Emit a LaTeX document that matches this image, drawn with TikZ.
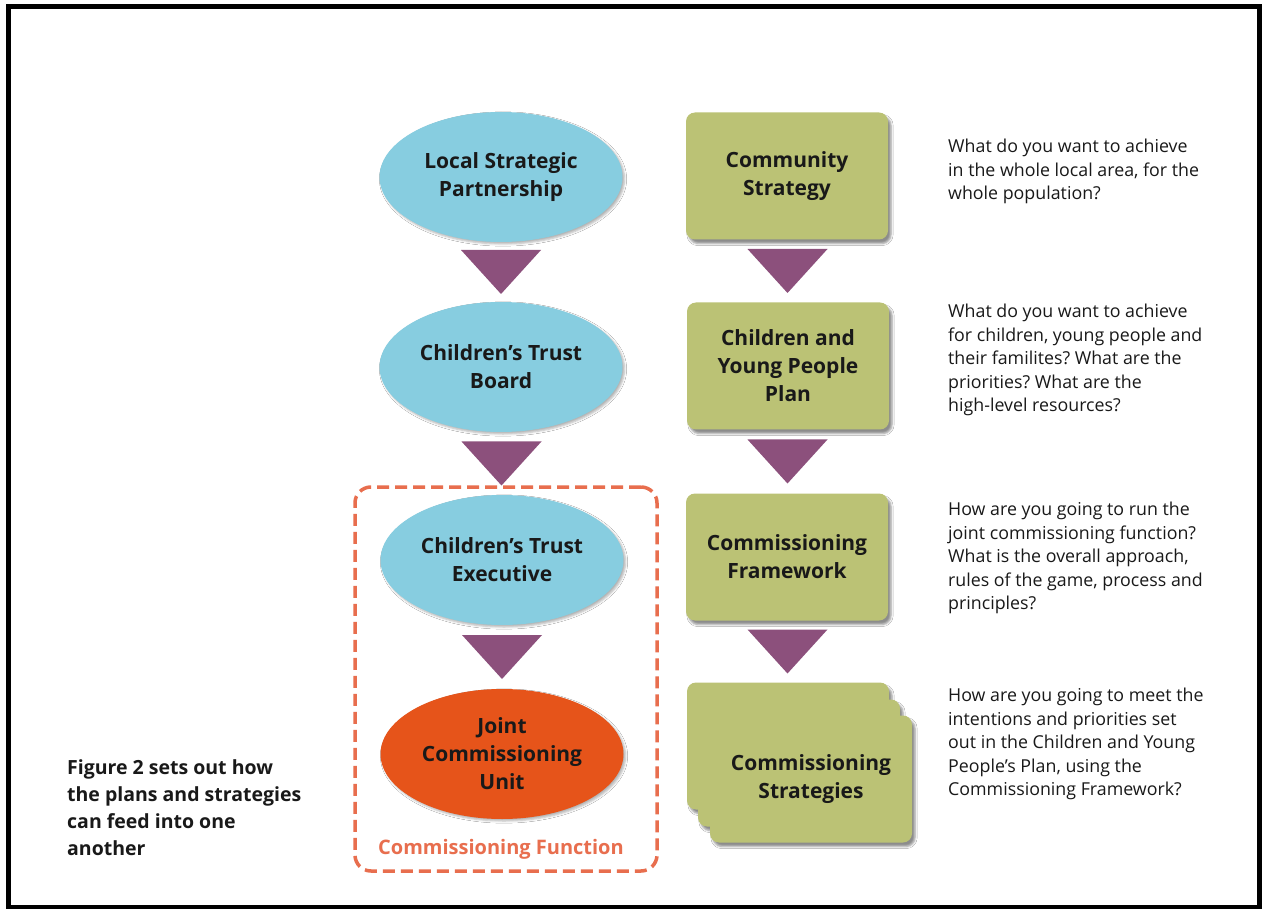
\documentclass[tikz,border=0pt]{standalone}
\usepackage{fontspec}
\setmainfont{Open Sans}
\usetikzlibrary{shapes.geometric,calc,shadows.blur}
\definecolor{skyb}{RGB}{135,205,224}
\definecolor{olivebox}{RGB}{187,194,117}
\definecolor{plum}{RGB}{140,80,124}
\definecolor{jcuor}{RGB}{230,84,26}
\definecolor{dashor}{RGB}{232,110,78}
\definecolor{ink}{RGB}{25,25,25}
\frenchspacing
\tikzset{
  oval/.style={ellipse, fill=skyb, minimum width=243pt, minimum height=130pt, inner sep=0pt,
    align=center, font=\bfseries\fontsize{21}{28}\selectfont, text=ink,
    blur shadow={shadow xshift=2pt, shadow yshift=-2pt, shadow opacity=30}},
  gbox/.style={rectangle, rounded corners=9pt, fill=olivebox, minimum width=202pt, minimum height=127pt,
    inner sep=0pt, align=center, font=\bfseries\fontsize{21}{28}\selectfont, text=ink,
    blur shadow={shadow xshift=3pt, shadow yshift=-4pt, shadow opacity=45}},
  tri/.style={fill=plum},
  note/.style={anchor=north west, inner sep=0pt, align=left, font=\fontsize{17.8}{23.5}\selectfont, text=ink},
}
\newcommand{\flowtri}[2]{%
  \fill[tri] ($(#1.south)!0.5!(#2.north)+(-40,-22)$) -- ($(#1.south)!0.5!(#2.north)+(40,-22)$)
    -- ($(#1.south)!0.5!(#2.north)+(0,22)$) -- cycle;}
\begin{document}
\begin{tikzpicture}[x=1pt,y=-1pt]
\useasboundingbox (0,0) rectangle (1262,909);
\fill[white] (0,0) rectangle (1262,909);
\draw[line width=5pt] (8.5,6.5) rectangle (1259.5,907);

% commissioning function frame
\node[draw=dashor, line width=3.5pt, dash pattern=on 12pt off 6pt, rounded corners=16pt,
  minimum width=302pt, minimum height=384pt, inner sep=0pt] (cfun) at (506,679) {};
\node[font=\bfseries\fontsize{20}{24}\selectfont, text=dashor, inner sep=0pt] (cfunlabel) at (501,849) {Commissioning Function};

% left column
\node[oval] (lsp) at (501,177) {Local Strategic\\Partnership};
\node[oval] (ctb) at (501,367) {Children’s Trust\\Board};
\node[oval] (cte) at (502,560) {Children’s Trust\\Executive};
\node[oval, fill=jcuor] (jcu) at (502,754) {Joint\\Commissioning\\Unit};

% right column
\node[gbox] (cs) at (787,176) {Community\\Strategy};
\node[gbox] (cyp) at (788,366) {Children and\\Young People\\Plan};
\node[gbox] (cf) at (787,557) {Commissioning\\Framework};
\node[gbox] (sb1) at (788,746) {};
\node[gbox] (sb2) at (799,763) {};
\node[gbox] (sb3) at (811,779) {Commissioning\\Strategies};

% triangles
\flowtri{lsp}{ctb}
\flowtri{ctb}{cte}
\flowtri{cte}{jcu}
\flowtri{cs}{cyp}
\flowtri{cyp}{cf}
\flowtri{cf}{sb1}

% notes
\node[note] (n1) at (948,139) {What do you want to achieve\\in the whole local area, for the\\whole population?};
\node[note] (n2) at (948,304) {What do you want to achieve\\for children, young people and\\their familites? What are the\\priorities? What are the\\high-level resources?};
\node[note] (n3) at (948,502) {How are you going to run the\\joint commissioning function?\\What is the overall approach,\\rules of the game, process and\\principles?};
\node[note] (n4) at (948,688) {How are you going to meet the\\intentions and priorities set\\out in the Children and Young\\People’s Plan, using the\\Commissioning Framework?};

\node[anchor=north west, inner sep=0pt, align=left, font=\bfseries\fontsize{19.5}{27.3}\selectfont, text=ink] (fig) at (67,759) {Figure 2 sets out how\\the plans and strategies\\can feed into one\\another};
\end{tikzpicture}
\end{document}
